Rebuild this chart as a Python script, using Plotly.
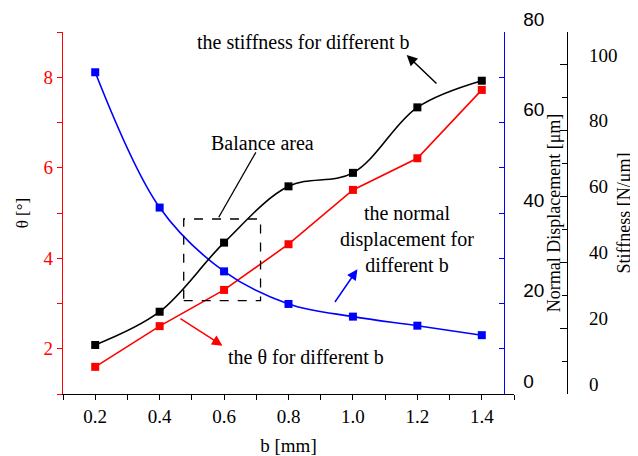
import plotly.graph_objects as go

b_mm = [0.2, 0.4, 0.6, 0.8, 1.0, 1.2, 1.4]
theta_deg = [1.60, 2.50, 3.30, 4.31, 5.51, 6.21, 7.72]
normal_disp_um = [71.1, 41.2, 27.1, 19.9, 17.1, 15.1, 13.0]
stiffness_N_um = [14.9, 25.0, 46.0, 63.1, 67.2, 87.1, 95.2]

SERIF = "Liberation Serif"
SANS = "Liberation Sans"

fig = go.Figure()
fig.add_trace(go.Scatter(
    x=b_mm, y=theta_deg, mode="lines+markers", name="theta",
    line=dict(color="#FF0000", width=1.6),
    marker=dict(symbol="square", size=8, color="#FF0000"),
    yaxis="y", showlegend=False))
fig.add_trace(go.Scatter(
    x=b_mm, y=normal_disp_um, mode="lines+markers", name="normal displacement",
    line=dict(color="#0000FF", width=1.6, shape="spline"),
    marker=dict(symbol="square", size=8, color="#0000FF"),
    yaxis="y2", showlegend=False))
fig.add_trace(go.Scatter(
    x=b_mm, y=stiffness_N_um, mode="lines+markers", name="stiffness",
    line=dict(color="#000000", width=1.6, shape="spline"),
    marker=dict(symbol="square", size=8, color="#000000"),
    yaxis="y3", showlegend=False))

# page has an 8px body margin; the figure is sized to fill the rest of the window
W, H = 630, 448
ML, MR, MT, MB = 55, 63, 24, 62
pw = W - ML - MR
x_end = (514 - 63) / pw
blue_pos = (504.3 - 63) / pw
stiff_pos = (567 - 63) / pw

fig.update_layout(
    width=W, height=H,
    margin=dict(l=ML, r=MR, t=MT, b=MB),
    paper_bgcolor="white", plot_bgcolor="white",
    font=dict(family=SERIF, size=19, color="black"),
    xaxis=dict(
        domain=[0, x_end], range=[0.1, 1.5], tick0=0.2, dtick=0.2,
        tickformat=".1f", showgrid=False, zeroline=False,
        showline=True, linecolor="black", linewidth=1.3,
        ticks="outside", ticklen=5, tickcolor="black", tickwidth=1.3,
        minor=dict(dtick=0.1, tick0=0.1, ticks="outside", ticklen=5,
                   tickcolor="black", tickwidth=1.3),
        tickfont=dict(family=SERIF, size=19, color="black"),
        title=dict(text="b [mm]", font=dict(family=SERIF, size=19), standoff=12),
        automargin=False),
    yaxis=dict(
        range=[1, 9], tick0=2, dtick=2, showgrid=False, zeroline=False,
        showline=True, linecolor="#FF0000", linewidth=1.3,
        ticks="outside", ticklen=5, tickcolor="#FF0000", tickwidth=1.3,
        minor=dict(dtick=1, tick0=1, ticks="outside", ticklen=5,
                   tickcolor="#FF0000", tickwidth=1.3),
        tickfont=dict(family=SERIF, size=19, color="#FF0000"),
        title=dict(text="θ [°]", font=dict(family=SERIF, size=17, color="black"), standoff=10),
        automargin=False),
    yaxis2=dict(
        range=[0, 80], tick0=0, dtick=20, overlaying="y", anchor="free",
        position=blue_pos, side="right", showgrid=False, zeroline=False,
        showline=True, linecolor="#0000FF", linewidth=1.3,
        ticks="inside", ticklen=5, tickcolor="#0000FF", tickwidth=1.3,
        minor=dict(dtick=10, tick0=0, ticks="inside", ticklen=5,
                   tickcolor="#0000FF", tickwidth=1.3),
        tickfont=dict(family=SANS, size=19, color="black"),
        ticklabelstandoff=14, ticklabelshift=-13,
        title=dict(text="Normal Displacement [μm]", font=dict(family=SERIF, size=18, color="black"), standoff=0),
        automargin=False),
    yaxis3=dict(
        range=[0, 110], tick0=0, dtick=20, overlaying="y", anchor="free",
        position=stiff_pos, side="right", showgrid=False, zeroline=False,
        showline=True, linecolor="black", linewidth=1.3,
        ticks="inside", ticklen=7, tickcolor="black", tickwidth=1.3,
        minor=dict(dtick=10, tick0=0, ticks="inside", ticklen=5,
                   tickcolor="black", tickwidth=1.3),
        tickfont=dict(family=SERIF, size=19, color="black"),
        ticklabelstandoff=17, ticklabelshift=-10,
        title=dict(text="Stiffness [N/μm]", font=dict(family=SERIF, size=18, color="black"), standoff=0),
        automargin=False),
)

# dashed "balance area" box
fig.add_shape(type="rect", xref="x", yref="y", x0=0.4747, x1=0.7132, y0=3.062, y1=4.867,
              line=dict(color="black", width=1.3, dash="dash"))
# leader line to Balance area
fig.add_shape(type="line", xref="x", yref="y", x0=0.5835, y0=4.905, x1=0.6986, y1=6.341,
              line=dict(color="black", width=1.3))

AF = 20
ann = []
ann.append(dict(text="the stiffness for different b", x=0.848, y=8.78, xref="x", yref="y",
                showarrow=False, font=dict(family=SERIF, size=AF, color="black")))
ann.append(dict(text="", x=1.167, y=8.49, ax=1.264, ay=7.83, xref="x", yref="y",
                axref="x", ayref="y", showarrow=True, arrowhead=2, arrowsize=1.4,
                arrowwidth=1.5, arrowcolor="black"))
ann.append(dict(text="Balance area", x=0.719, y=6.554, xref="x", yref="y",
                showarrow=False, font=dict(family=SERIF, size=AF, color="black")))
ann.append(dict(text="the normal<br>displacement for<br>different b", x=1.167, y=4.42,
                xref="x", yref="y", showarrow=False, align="center",
                font=dict(family=SERIF, size=AF, color="black")))
ann.append(dict(text="", x=1.014, y=3.756, ax=0.941, ay=3.00, xref="x", yref="y",
                axref="x", ayref="y", showarrow=True, arrowhead=2, arrowsize=1.4,
                arrowwidth=1.5, arrowcolor="#0000FF"))
ann.append(dict(text="the θ for different b", x=0.854, y=1.824, xref="x", yref="y",
                showarrow=False, font=dict(family=SERIF, size=AF, color="black")))
ann.append(dict(text="", x=0.595, y=2.067, ax=0.46, ay=2.686, xref="x", yref="y",
                axref="x", ayref="y", showarrow=True, arrowhead=2, arrowsize=1.4,
                arrowwidth=1.5, arrowcolor="#FF0000"))
fig.update_layout(annotations=ann)

fig.write_html("out.html")
